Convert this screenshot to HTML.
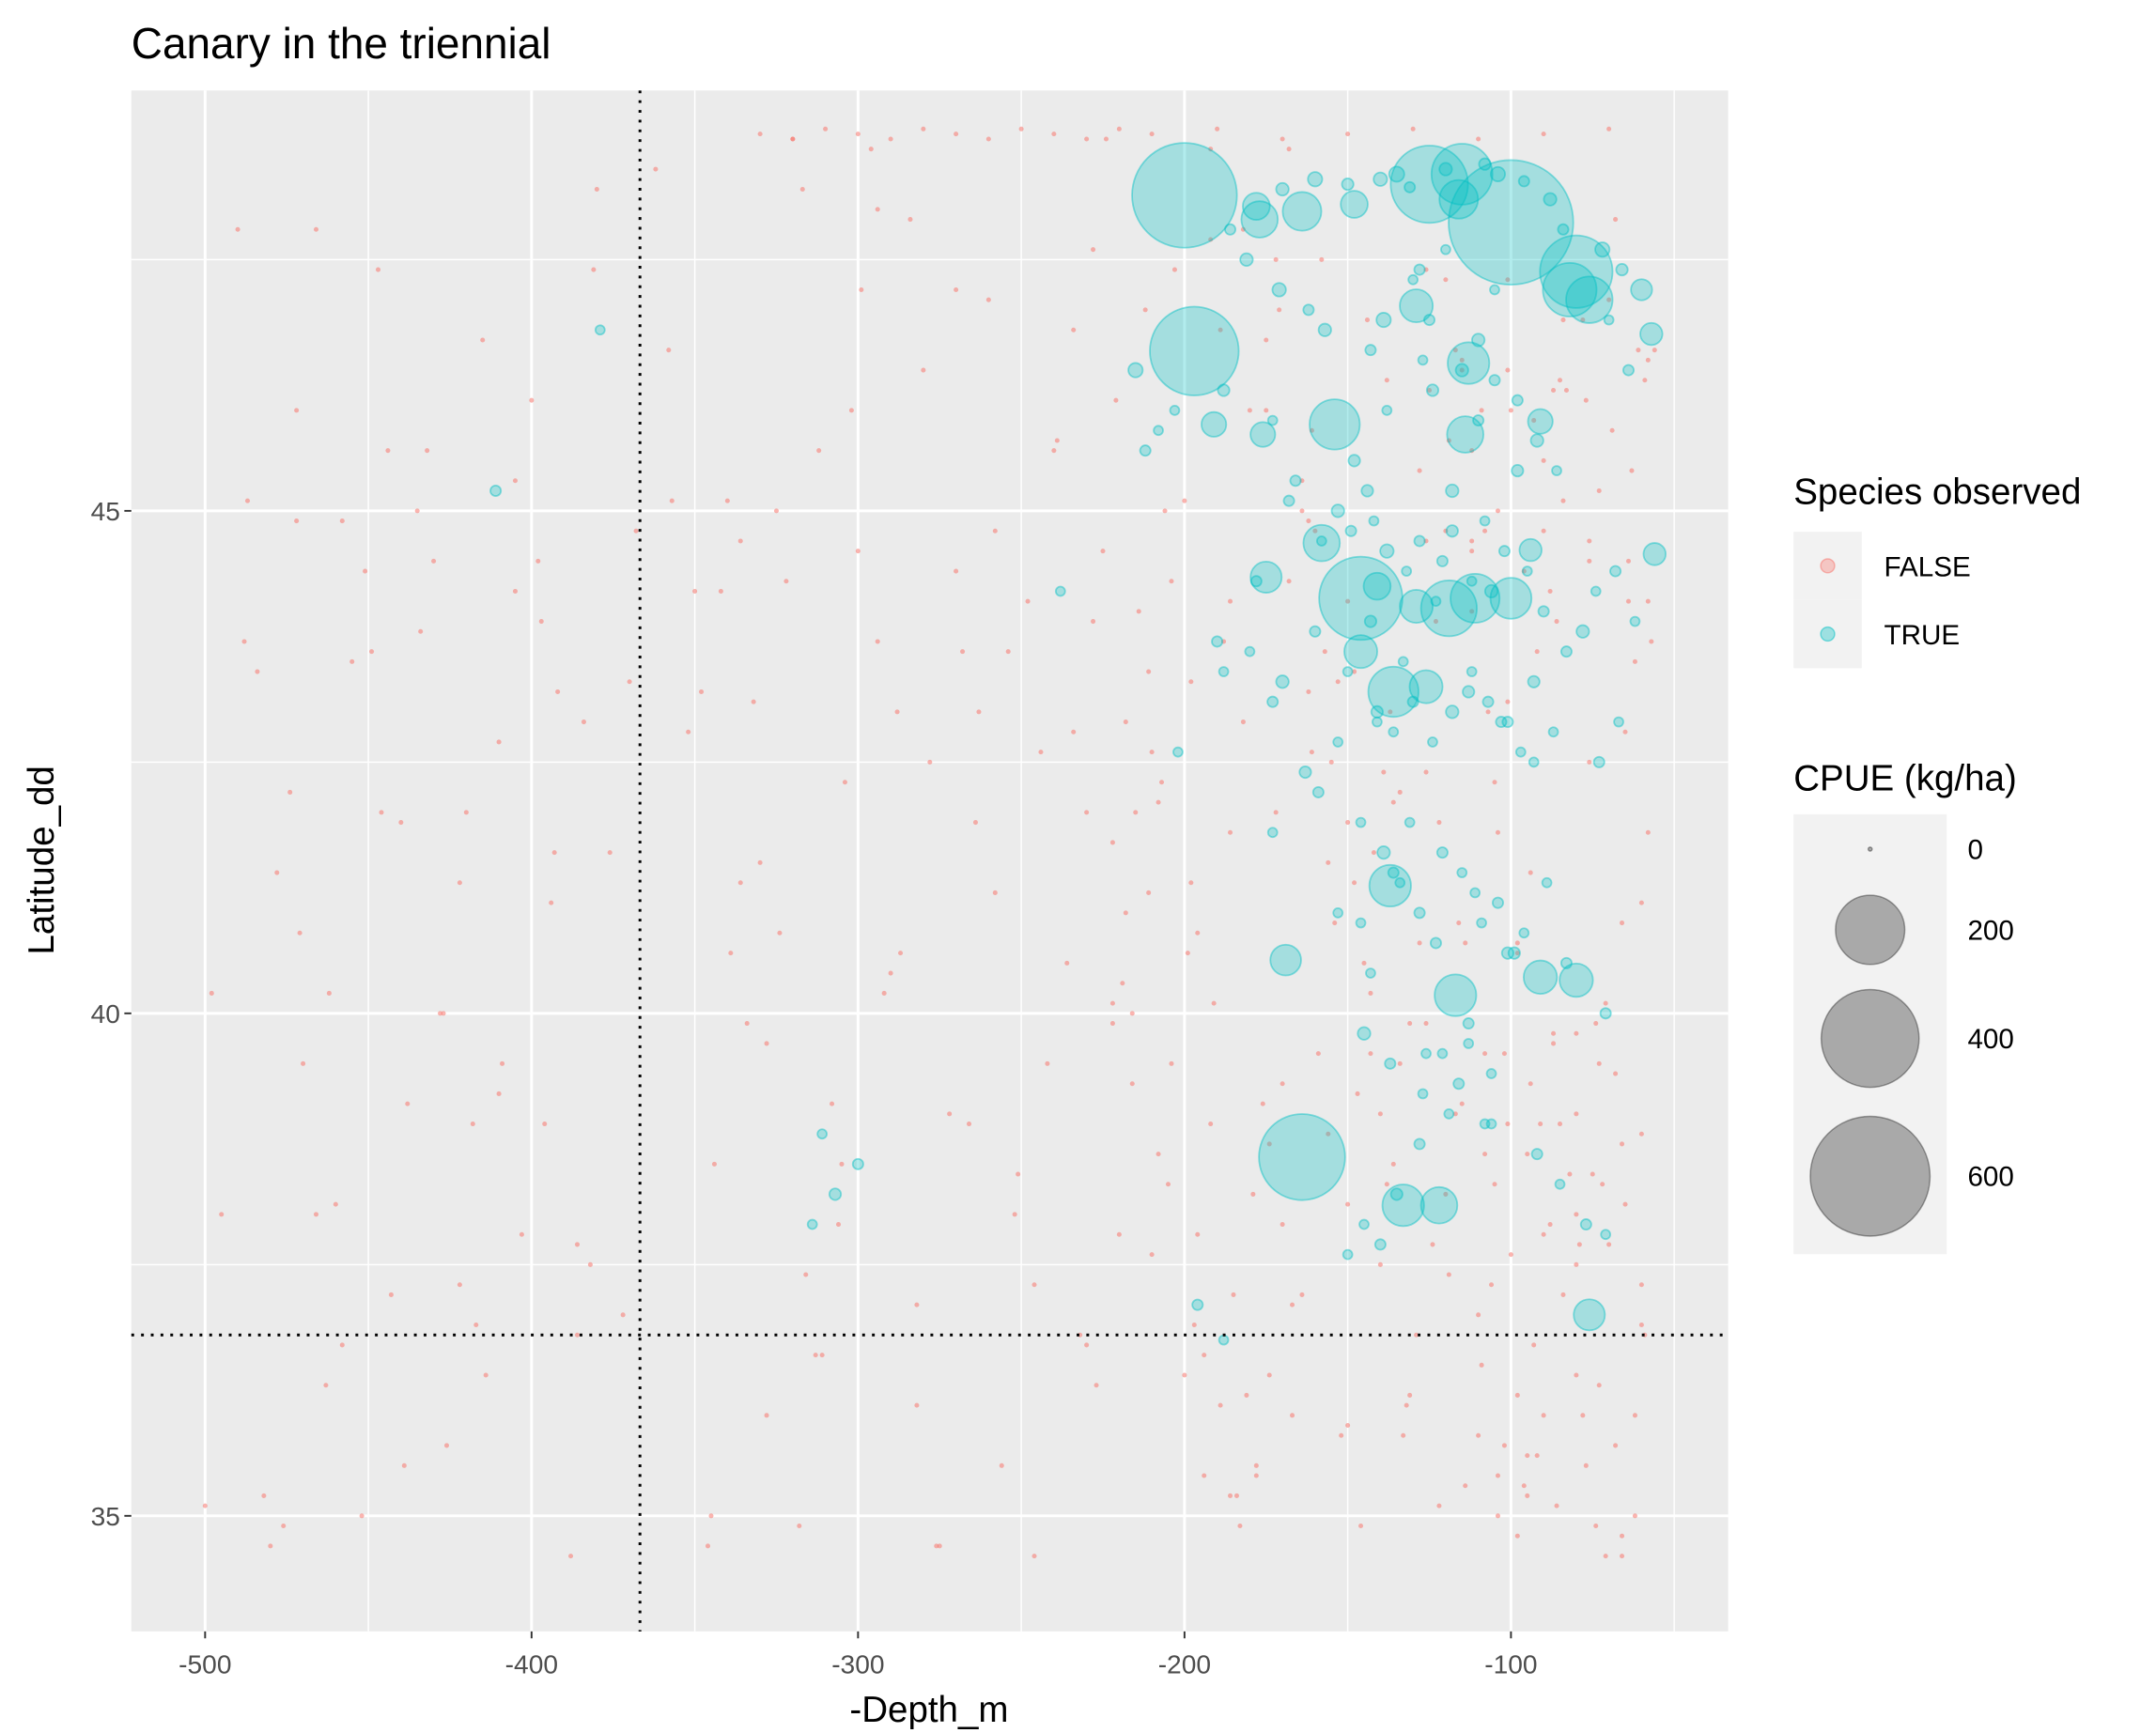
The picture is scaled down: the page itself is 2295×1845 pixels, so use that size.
<!DOCTYPE html>
<html><head><meta charset="utf-8"><style>
html,body{margin:0;padding:0;background:#fff}
svg{display:block}
text{font-family:"Liberation Sans",Arial,sans-serif}
</style></head><body>
<svg id="chart" width="2295" height="1845" viewBox="0 0 1548 1245" xmlns="http://www.w3.org/2000/svg">
<rect width="1548" height="1245" fill="#fff"/>
<text x="94" y="42" font-size="31" fill="#000">Canary in the triennial</text>
<rect x="94" y="65" width="1147" height="1107" fill="#ebebeb"/>
<g id="grid"></g>
<g id="pts"></g>
<g id="refs"></g>
<g id="axes"></g>
<text x="667" y="1237" font-size="26" text-anchor="middle">-Depth_m</text>
<text transform="translate(38,618) rotate(-90)" font-size="26" text-anchor="middle">Latitude_dd</text>
<g>
<text x="1288" y="362" font-size="26">Species observed</text>
<rect x="1288" y="382" width="49" height="49" fill="#f2f2f2"/>
<rect x="1288" y="431" width="49" height="49" fill="#f2f2f2"/>
<circle cx="1312.5" cy="406.5" r="5" fill="#F8766D" fill-opacity="0.35" stroke="#F8766D" stroke-opacity="0.5"/>
<circle cx="1312.5" cy="455.5" r="5" fill="#00BFC4" fill-opacity="0.35" stroke="#00BFC4" stroke-opacity="0.5"/>
<text x="1353" y="414" font-size="20" fill="#000">FALSE</text>
<text x="1353" y="463" font-size="20" fill="#000">TRUE</text>
</g>
<g id="sizeLegend">
<text x="1288" y="568" font-size="26">CPUE (kg/ha)</text>
<rect x="1288" y="585" width="110" height="316" fill="#f2f2f2"/>
</g>
</svg>
<script>
const xTicks=[-500,-400,-300,-200,-100];
const xMinor=[-450,-350,-250,-150,-50];
const yTicks=[35,40,45];
const yMinor=[37.5,42.5,47.5];
const refDepth=-366.8;
const refLat=36.8;
const sizeBreaks=[0,200,400,600];
// TRUE (species observed): depth, lat, cpue
const trueDepth=[-200,-100,-197,-164,-125,-115,-146,-80,-82,-76,-154,-119,-100,-136,-137,-117,-91,-80,-169,-133,-122,-116,-158,-129,-113,-114,-91,-56,-177,-164,-178,-148,-111,-129,-141,-175,-146,-126,-191,-176,-76,-57,-60,-94,
-170,-160,-150,-140,-135,-131,-120,-108,-104,-96,-88,-84,-72,-66,-186,-181,-171,-162,-157,-143,-139,-127,-124,-110,-105,-98,-92,-86,-70,-64,-203,-208,-212,-188,-173,-166,-153,-149,-144,-142,-138,-132,-128,-121,-118,-112,-106,-102,-95,-90,-78,-74,-68,-62,-190,-180,-170,-160,-150,-141,-136,-130,-124,-118,-112,-107,-101,-97,-93,-87,-73,-67,-159,-146,-139,-134,-128,-123,-115,-109,-104,-99,-96,-89,-83,-71,-145,-137,-127,-119,-113,-106,-311,-300,-307,-314,-379,-411,-238,-215,-196,-202,-188,-173,-153,-143,-128,-121,-113,-108,-92,-85,-77,-71];
const trueLat=[48.14,47.87,46.59,38.57,48.25,48.35,44.13,47.38,47.2,47.1,45.86,44.03,44.13,43.2,41.27,40.18,40.36,40.33,40.53,38.09,38.09,48.1,44.68,47.04,46.47,45.76,45.89,44.57,47.9,47.98,48.03,48.05,44.13,44.05,44.25,44.34,43.6,43.25,45.86,45.76,37.0,46.76,47.2,44.61,
48.2,48.3,48.25,48.3,48.35,48.22,48.4,48.45,48.35,48.28,48.1,47.8,47.6,47.4,47.8,47.5,47.2,47.0,46.8,46.6,46.9,46.5,46.2,46.7,46.3,46.1,45.7,45.4,46.9,46.4,46.0,45.8,45.6,46.2,45.9,45.3,45.0,44.8,45.2,44.9,44.6,44.4,44.7,44.5,44.8,44.3,44.2,44.6,44.4,44.0,43.8,44.2,44.4,43.9,43.7,43.6,43.3,43.8,43.4,43.0,42.8,43.1,42.7,43.0,43.4,43.1,42.9,42.6,43.3,42.8,42.5,42.9,42.2,41.9,41.6,41.3,41.0,40.7,41.4,40.9,41.1,40.6,40.8,41.3,40.5,40.0,39.8,39.5,39.2,39.0,39.9,39.4,38.8,38.5,38.2,37.9,46.8,45.2,44.2,46.4,37.1,42.6,36.75,41.8,41.0,40.4,38.7,39.6,39.7,38.9,38.6,38.3,37.9,37.8,37.6,37.9,37.7,38.2];
const trueCpue=[460,650,330,310,250,155,290,220,120,90,105,130,70,105,72,72,46,46,39,72,55,62,55,45,72,55,25,20,55,62,30,30,100,45,30,40,45,45,25,25,40,20,18,20,
6,8,5,7,9,4,6,5,8,4,6,4,8,5,4,6,7,4,6,4,8,3,5,6,4,4,6,3,3,4,3,3,4,5,3,4,6,4,5,3,7,3,4,4,5,3,6,4,3,4,6,3,4,3,4,3,6,4,3,5,3,4,3,6,3,4,4,3,5,3,4,3,4,3,6,3,4,4,3,3,4,5,3,3,4,4,6,4,3,3,4,3,3,4,5,3,3,4,3,8,4,3,3,3,3,3,4,3,3,3,4,3,4,3,3,3];
const trueDepth2=[-150,-145,-140,-135,-130,-125,-120,-115,-110,-105,
-148,-138,-128,-118,-108,-98,-158,-168,-178,-188,
-143,-133,-123,-113,-103,-93,-83,-153,-163,-173,
-141,-131,-121,-111,-101,-146,-136,-126,-116,-106];
const trueLat2=[47.3,46.9,47.6,46.4,45.9,47.2,45.5,46.0,47.4,45.2,
44.9,45.4,44.7,45.1,44.3,43.4,43.9,43.5,44.1,43.2,
42.9,42.5,43.6,42.7,42.4,43.1,42.9,41.9,41.6,41.2,
40.6,40.9,41.4,39.6,39.3,38.9,38.4,38.2,37.6,37.4];
const trueCpue2=[4,5,3,4,3,6,4,3,5,3,
4,6,3,5,3,4,4,3,5,3,
3,5,4,3,4,3,5,4,3,3,
4,3,5,3,4,3,4,3,5,3];
// FALSE (not observed): depth, lat
const falseDepth=[-500,-498,-490,-487,-484,-480,-476,-472,-470,-466,-462,-458,-452,-447,-444,-440,-435,-430,-427,-422,-418,-414,-410,-405,-400,-396,-392,-388,-384,-380,-376,-372,-368,-362,-357,-352,-348,-344,-340,-336,-332,-328,-324,-320,-316,-312,-308,-304,-300,-296,-292,-288,-284,-280,-276,-272,-268,-264,-260,-256,-252,-248,-244,-240,-236,-232,-228,-224,-220,-216,-212,-208,-204,-200,-196,-192,-188,-184,-180,-176,-172,-168,-164,-160,-156,-152,-148,-144,-140,-136,-132,-128,-124,-120,-116,-112,-108,-104,-100,-96,-92,-88,-84,-80,-76,-72,-68,-64,-60,-56,
-495,-482,-471,-460,-449,-438,-426,-415,-403,-393,-381,-370,-358,-345,-334,-322,-311,-299,-287,-275,-263,-251,-239,-227,-215,-203,-191,-179,-167,-155,-143,-131,-119,-107,-95,-83,-71,-59,
-488,-474,-463,-451,-439,-428,-417,-405,-394,-382,-346,-336,-325,-313,-302,-290,-278,-266,-254,-242,-230,-218,-206,-194,-182,-170,-158,-146,-134,-122,-110,-98,-86,-74,-62,
-478,-466,-455,-443,-432,-420,-409,-397,-386,-350,-339,-328,-317,-305,-294,-282,-270,-258,-246,-234,-222,-210,-198,-186,-174,-162,-150,-138,-126,-114,-102,-90,-78,-66,-58,
-472,-458,-446,-434,-422,-410,-398,-386,-342,-330,-318,-306,-294,-282,-270,-258,-246,-234,-222,-210,-198,-186,-174,-162,-150,-138,-126,-114,-102,-90,-78,-66,-60,
-105,-100,-95,-90,-85,-80,-75,-70,-65,-60,-110,-104,-98,-92,-86,-80,-74,-68,-62,-115,-108,-101,-94,-87,-80,-73,-66,-120,-112,-104,-96,-88,-76,-64,-58,-125,-117,-109,-101,-93,-85,-77,-69,-61];
const falseLat=[35.1,40.2,47.8,45.1,43.4,34.7,34.9,46.0,39.5,47.8,40.2,44.9,35.0,47.4,45.6,41.9,45.0,44.5,40.0,41.3,38.9,36.4,42.7,44.2,46.1,38.9,43.2,34.6,42.9,48.2,41.6,37.0,44.8,48.4,45.1,42.8,43.2,38.5,45.1,44.7,43.1,39.7,40.8,48.7,37.4,45.6,39.1,42.3,44.6,48.6,40.2,43.0,47.9,46.4,34.7,39.0,43.6,41.9,47.1,35.5,38.0,44.1,42.6,45.6,40.5,36.8,43.9,48.7,37.8,39.3,47.0,42.1,44.3,36.4,40.8,48.6,43.7,35.2,46.0,39.1,42.0,48.6,37.2,44.8,41.5,35.8,43.4,46.9,39.0,42.1,36.1,45.4,37.7,47.3,40.9,44.7,38.6,41.8,46.0,35.3,43.6,37.9,45.1,39.8,42.5,38.3,47.9,44.1,36.9,46.6,
38.0,35.2,40.8,38.1,43.6,39.1,35.7,46.7,37.8,41.6,47.4,43.3,46.6,35.0,39.9,44.3,36.6,47.2,40.6,34.7,43.0,38.4,45.7,36.3,42.0,47.4,40.1,38.2,36.0,42.5,39.6,36.2,37.4,43.0,35.2,46.2,34.6,36.8,
43.7,42.2,36.3,44.4,35.5,40.0,36.9,45.3,41.1,37.5,34.7,41.3,45.0,36.6,46.0,40.4,42.5,38.9,43.6,39.5,36.7,41.0,45.0,35.4,42.9,39.3,47.5,34.9,39.5,41.9,37.0,40.7,43.9,39.9,36.0,
41.4,38.0,43.5,37.2,45.6,42.0,39.5,43.9,37.7,44.2,40.6,36.0,48.2,38.5,43.7,37.1,47.2,44.8,37.3,42.8,39.9,42.6,41.3,44.1,36.4,43.2,38.1,38.3,39.9,35.3,39.6,45.5,36.0,34.8,44.1,
44.9,36.7,42.0,43.8,37.3,39.2,44.5,36.8,44.2,41.5,34.9,37.9,48.0,36.1,44.4,41.2,34.6,46.8,40.1,37.6,43.3,41.8,38.7,44.9,35.9,46.3,42.4,40.7,35.7,44.8,46.9,40.9,38.8,
38.3,37.6,38.6,37.8,38.9,37.5,38.4,37.7,38.1,37.3,35.8,35.4,36.2,35.6,35.1,36.4,34.9,35.7,35.0,39.1,39.6,38.9,39.3,39.8,39.0,39.5,38.7,44.8,44.6,45.0,44.4,44.2,44.7,44.5,46.5,46.2,46.6,46.0,46.4,45.9,46.3,46.1,45.8,46.6];
const falseDepth2=[-228,-221,-214,-207,-199,-192,-185,-178,-171,-164,
-157,-150,-143,-136,-129,-122,-115,-108,-101,-94,
-87,-80,-73,-66,-59,-225,-218,-211,-204,-196,
-189,-182,-175,-168,-161,-154,-147,-140,-133,-126,
-119,-112,-105,-98,-91,-84,-77,-70,-63,-57,
-230,-219,-208,-197,-186,-175,-164,-153,-142,-131,
-120,-109,-98,-87,-76,-65,-60,-68,-79,-90,
-101,-112,-123,-134,-145,-156,-167,-178,-189,-200,
-211,-222,-216,-205,-194,-183,-172,-161,-150,-139,
-128,-117,-106,-95,-84,-73,-62,-58,-71,-82,
-93,-104,-115,-126,-137,-148,-159,-170,-181,-192,
-330,-310,-290,-270,-250,-230,-210,-190,-170,-150,
-130,-110,-90,-70,-320,-300,-280,-260,-240,-220];
const falseLat2=[47.6,46.1,44.0,42.3,40.6,38.9,37.2,35.5,47.0,45.3,
43.6,41.9,40.2,38.5,36.8,35.1,46.5,44.8,43.1,41.4,
39.7,38.0,36.3,34.6,46.3,44.6,42.9,41.2,39.5,37.8,
36.1,47.8,46.0,44.3,42.6,40.9,39.2,37.5,35.8,47.4,
45.7,44.0,42.3,40.6,38.9,37.2,35.5,47.1,45.4,43.7,
42.0,40.3,38.6,36.9,35.2,46.7,45.0,43.3,41.6,39.9,
38.2,36.5,34.8,46.2,44.5,42.8,41.1,39.4,37.7,36.0,
47.3,45.6,43.9,42.2,40.5,38.8,37.1,35.4,46.8,45.1,
43.4,41.7,40.0,38.3,36.6,34.9,47.5,45.8,44.1,42.4,
40.7,39.0,37.3,35.6,46.9,45.2,43.5,41.8,40.1,38.4,
36.7,35.0,46.4,44.7,43.0,41.3,39.6,37.9,36.2,47.7,
48.75,48.8,48.7,48.75,48.8,48.7,48.75,48.8,48.7,48.75,
48.8,48.7,48.75,48.8,48.7,48.75,48.8,48.7,48.75,48.8];
const NS="http://www.w3.org/2000/svg";
const PX0=94,PX1=1241,PY0=65,PY1=1172;
function sx(d){return 147+(d+500)*2.345;}
function sy(l){return 367-(l-45)*72.2;}
function sr(v){return Math.sqrt(2.0+3.08*v);}
function mk(tag,attrs,parent){const e=document.createElementNS(NS,tag);for(const k in attrs)e.setAttribute(k,attrs[k]);parent.appendChild(e);return e;}
const grid=document.getElementById('grid');
xMinor.forEach(v=>{const e=mk('line',{x1:sx(v),x2:sx(v),y1:PY0,y2:PY1,stroke:'#fff','stroke-width':1},grid);

});
yMinor.forEach(v=>{const e=mk('line',{x1:PX0,x2:PX1,y1:sy(v),y2:sy(v),stroke:'#fff','stroke-width':1},grid);

});
const axes=document.getElementById('axes');
xTicks.forEach(v=>{const e=mk('line',{x1:sx(v),x2:sx(v),y1:PY0,y2:PY1,stroke:'#fff','stroke-width':2},grid);


const t=mk('line',{x1:sx(v),x2:sx(v),y1:PY1,y2:PY1+5,stroke:'#333','stroke-width':1.3},axes);


const l=mk('text',{x:sx(v),y:1202,'font-size':19,fill:'#4d4d4d','text-anchor':'middle'},axes);l.textContent=v;

});
yTicks.forEach(v=>{const e=mk('line',{x1:PX0,x2:PX1,y1:sy(v),y2:sy(v),stroke:'#fff','stroke-width':2},grid);


const t=mk('line',{x1:PX0-5,x2:PX0,y1:sy(v),y2:sy(v),stroke:'#333','stroke-width':1.3},axes);


const l=mk('text',{x:86,y:sy(v)+7,'font-size':19,fill:'#4d4d4d','text-anchor':'end'},axes);l.textContent=v;

});
const pts=document.getElementById('pts');
const fD=falseDepth.concat(falseDepth2), fL=falseLat.concat(falseLat2);
const nF=Math.min(fD.length,fL.length);
for(let i=0;i<nF;i++){const c=mk('circle',{cx:sx(fD[i]),cy:sy(fL[i]),r:1.7,fill:'#F8766D','fill-opacity':0.55},pts);

}
const tD=trueDepth.concat(trueDepth2), tL=trueLat.concat(trueLat2), tC=trueCpue.concat(trueCpue2);
const nT=Math.min(tD.length,tL.length,tC.length);
const order=[];for(let i=0;i<nT;i++)order.push(i);
order.sort((a,b)=>tC[b]-tC[a]);
order.forEach(i=>{const c=mk('circle',{cx:sx(tD[i]),cy:sy(tL[i]),r:sr(tC[i]),fill:'#00BFC4','fill-opacity':0.3,stroke:'#00BFC4','stroke-opacity':0.45,'stroke-width':1.2},pts);

});
const refs=document.getElementById('refs');
const rv=mk('line',{x1:sx(refDepth),x2:sx(refDepth),y1:PY0,y2:PY1,stroke:'#000','stroke-width':2,'stroke-dasharray':'2,5'},refs);


const rh=mk('line',{x1:PX0,x2:PX1,y1:sy(refLat),y2:sy(refLat),stroke:'#000','stroke-width':2,'stroke-dasharray':'2,5'},refs);


const sl=document.getElementById('sizeLegend');
const ly=[610,668,746,845];
sizeBreaks.forEach((v,i)=>{const c=mk('circle',{cx:1343,cy:ly[i],r:sr(v),fill:'#000','fill-opacity':0.3,stroke:'#000','stroke-opacity':0.35},sl);


const t=mk('text',{x:1413,y:ly[i]+7,'font-size':20},sl);t.textContent=v;

});
</script>
</body></html>
